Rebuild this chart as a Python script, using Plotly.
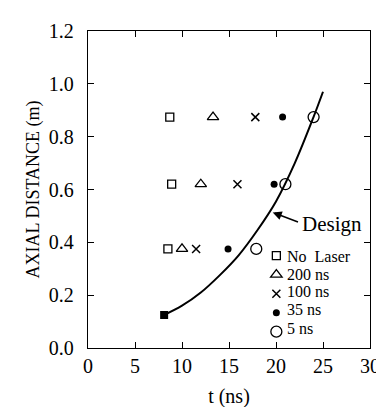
import plotly.graph_objects as go

# Data
rows_y = [0.874, 0.62, 0.375]
no_laser_t = [8.7, 8.9, 8.5]
ns200_t = [13.3, 12.0, 10.0]
ns100_t = [17.8, 15.9, 11.5]
ns35_t = [20.7, 19.8, 14.9]
ns5_t = [24.0, 21.0, 17.9]

design_t = [8.1, 10.0, 12.0, 14.0, 16.0, 18.0, 20.0, 22.0, 24.0, 25.0]
design_z = [0.125, 0.16, 0.21, 0.275, 0.35, 0.445, 0.555, 0.70, 0.875, 0.97]

series_names = ["No  Laser", "200 ns", "100 ns", "35 ns", "5 ns"]

x_ticks = [0, 5, 10, 15, 20, 25, 30]
y_ticks = [0.0, 0.2, 0.4, 0.6, 0.8, 1.0, 1.2]

FONT = "Liberation Serif, Times New Roman, serif"

fig = go.Figure()

fig.add_trace(go.Scatter(
    x=design_t, y=design_z, mode="lines", line=dict(color="black", width=2, shape="spline", smoothing=1.0),
    showlegend=False, hoverinfo="skip"))
fig.add_trace(go.Scatter(
    x=design_t[:1], y=design_z[:1], mode="markers",
    marker=dict(symbol="square", size=8, color="black"), showlegend=False))

marker_styles = [
    dict(symbol="square-open", size=8, color="black", line=dict(width=1.3)),
    dict(symbol="triangle-up-open", size=10, color="black", line=dict(width=1.3)),
    dict(symbol="x-thin-open", size=8, color="black", line=dict(width=1.5, color="black")),
    dict(symbol="circle", size=7, color="black"),
    dict(symbol="circle-open", size=11, color="black", line=dict(width=1.3)),
]
for name, xs, mk in zip(series_names, [no_laser_t, ns200_t, ns100_t, ns35_t, ns5_t], marker_styles):
    fig.add_trace(go.Scatter(x=xs, y=rows_y, mode="markers", name=" ", legendgroup=name,
                             marker=mk, cliponaxis=False))

# legend labels (placed close to the legend keys, as in the reference)
label_y = [0.289, 0.232, 0.178, 0.123, 0.063]
for name, ly in zip(series_names, label_y):
    fig.add_annotation(x=0.70, y=ly, xref="paper", yref="paper", text=name, showarrow=False,
                       xanchor="left", yanchor="middle",
                       font=dict(family=FONT, size=16, color="black"))

fig.add_annotation(x=19.65, y=0.513, ax=22.5, ay=0.475, axref="x", ayref="y",
                   xref="x", yref="y", text="", showarrow=True, arrowhead=2,
                   arrowsize=1.2, arrowwidth=1.5, arrowcolor="black")
fig.add_annotation(x=22.6, y=0.47, xref="x", yref="y", text="Design", showarrow=False,
                   xanchor="left", yanchor="middle", font=dict(family=FONT, size=21, color="black"))

axis_common = dict(showgrid=False, zeroline=False, showline=True, linecolor="black",
                   linewidth=1.3, mirror="ticks", ticks="inside", ticklen=6, tickcolor="black",
                   tickfont=dict(family=FONT, size=20, color="black"))

fig.update_xaxes(range=[0, 30], tickvals=x_ticks, ticktext=[str(v) for v in x_ticks],
                 title=dict(text="t (ns)", font=dict(family=FONT, size=20, color="black"), standoff=12),
                 **axis_common)
fig.update_yaxes(range=[0, 1.2], tickvals=y_ticks, ticktext=[f"{v:.1f}" for v in y_ticks],
                 ticklabelstandoff=9,
                 title=dict(text="AXIAL DISTANCE (m)", font=dict(family=FONT, size=18, color="black"), standoff=4),
                 **axis_common)

fig.update_layout(
    width=384, height=407, margin=dict(l=80, r=14, t=16, b=55),
    plot_bgcolor="white", paper_bgcolor="white",
    font=dict(family=FONT, color="black"),
    showlegend=True,
    legend=dict(x=0.597, y=0.337, xanchor="left", yanchor="top", bgcolor="rgba(0,0,0,0)",
                font=dict(family=FONT, size=12, color="black"), itemwidth=30, tracegroupgap=0,
                borderwidth=0),
)

fig.write_html("out.html")
